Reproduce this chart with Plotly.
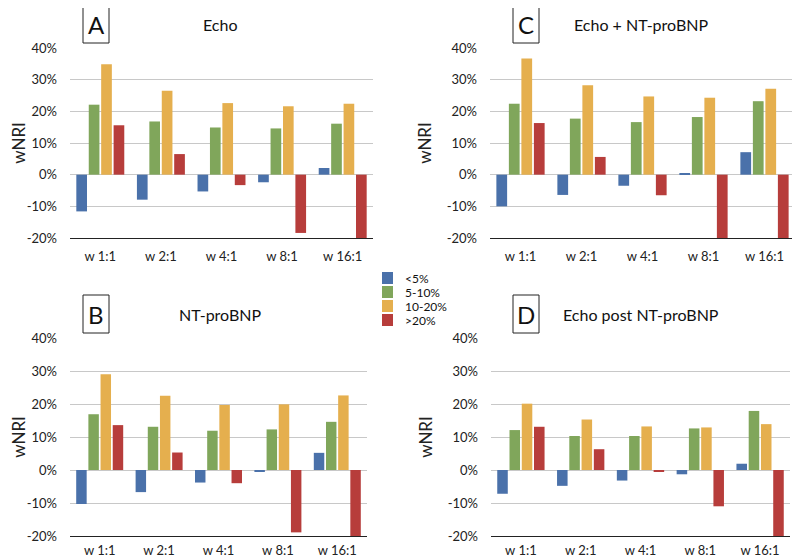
import plotly.graph_objects as go

# weights on x axis
weights = ["w 1:1", "w 2:1", "w 4:1", "w 8:1", "w 16:1"]
risk_groups = ["<5%", "5-10%", "10-20%", ">20%"]
colors = ["#4A71AA", "#80A65B", "#E5AF4E", "#B73D3B"]

# wNRI values (%) per panel, per risk group
echo_lt5 = [-11.6, -7.9, -5.3, -2.4, 2.1]
echo_5_10 = [22.1, 16.8, 14.9, 14.6, 16.1]
echo_10_20 = [34.9, 26.5, 22.6, 21.6, 22.4]
echo_gt20 = [15.6, 6.5, -3.3, -18.4, -20.0]

nt_lt5 = [-10.3, -6.7, -3.8, -0.6, 5.2]
nt_5_10 = [16.9, 13.1, 11.9, 12.3, 14.6]
nt_10_20 = [29.0, 22.5, 19.7, 19.9, 22.6]
nt_gt20 = [13.6, 5.3, -4.0, -18.9, -20.0]

both_lt5 = [-10.0, -6.4, -3.5, 0.4, 7.1]
both_5_10 = [22.4, 17.7, 16.6, 18.2, 23.2]
both_10_20 = [36.7, 28.2, 24.7, 24.3, 27.1]
both_gt20 = [16.3, 5.6, -6.5, -20.0, -20.0]

post_lt5 = [-7.2, -4.8, -3.2, -1.3, 1.9]
post_5_10 = [12.1, 10.3, 10.3, 12.6, 17.9]
post_10_20 = [20.1, 15.3, 13.2, 12.9, 13.9]
post_gt20 = [13.1, 6.3, -0.6, -11.0, -20.0]

panels = [
    ("A", "Echo", [echo_lt5, echo_5_10, echo_10_20, echo_gt20]),
    ("B", "NT-proBNP", [nt_lt5, nt_5_10, nt_10_20, nt_gt20]),
    ("C", "Echo + NT-proBNP", [both_lt5, both_5_10, both_10_20, both_gt20]),
    ("D", "Echo post NT-proBNP", [post_lt5, post_5_10, post_10_20, post_gt20]),
]

# the page puts the figure 8px in from the window corner
OFF = 8
W, H = 800 - OFF, 560 - OFF


def px(x):
    return (x - OFF) / W


def py(y):
    return 1 - (y - OFF) / H


# plot-area domains, from window pixels
xdoms = {"A": [px(70), px(373)], "B": [px(70), px(367)],
         "C": [px(490), px(795)], "D": [px(491), px(790)]}
ydoms = {"A": [py(238), py(48)], "B": [py(536), py(338)],
         "C": [py(238), py(48)], "D": [py(536), py(338)]}

FONT = "Lato, 'Open Sans', sans-serif"

fig = go.Figure()
layout = dict()
annotations = []
shapes = []

for i, (letter, title, series) in enumerate(panels):
    n = "" if i == 0 else str(i + 1)
    xa, ya = "x" + n, "y" + n
    top_row = letter in "AC"
    for name, vals, col in zip(risk_groups, series, colors):
        fig.add_trace(go.Bar(
            x=weights, y=vals, name=name, marker_color=col,
            marker_line_width=0, xaxis=xa, yaxis=ya, showlegend=False,
        ))
    layout["xaxis" + n] = dict(
        domain=xdoms[letter], anchor=ya, showgrid=False, automargin=False,
        showline=True, linecolor="#222", linewidth=1.2,
        ticks="", ticklabelstandoff=6 if top_row else 2,
        tickfont=dict(size=13, color="#222", family=FONT),
    )
    layout["yaxis" + n] = dict(
        domain=ydoms[letter], anchor=xa, range=[-20, 40], automargin=False,
        tickvals=[-20, -10, 0, 10, 20, 30, 40],
        ticktext=["-20%", "-10%", "0%", "10%", "20%", "30%", "40%"],
        showgrid=True, gridcolor="#c8c8c8", gridwidth=1,
        zeroline=False, showline=False, ticks="", ticklabelstandoff=12,
        tickfont=dict(size=13, color="#222", family=FONT),
        title=dict(text="wNRI", font=dict(size=17, color="#222", family=FONT), standoff=10),
    )
    ytop_px = 48 if top_row else 338
    bx = 83 if letter in "AB" else 513
    by = ytop_px - 24
    shapes.append(dict(type="rect", xref="paper", yref="paper",
                       x0=px(bx), x1=px(bx + 26),
                       y0=py(by + 19), y1=py(by - 19),
                       line=dict(color="#222", width=1), fillcolor="white"))
    annotations.append(dict(text=letter, xref="paper", yref="paper",
                            x=px(bx + 13), y=py(by), showarrow=False,
                            xanchor="center", yanchor="middle",
                            font=dict(size=24, color="#111", family=FONT)))
    tx = 220 if letter in "AB" else 641
    annotations.append(dict(text=title, xref="paper", yref="paper",
                            x=px(tx), y=py(by), showarrow=False,
                            xanchor="center", yanchor="middle",
                            font=dict(size=16, color="#111", family=FONT)))

# hand-drawn legend between the panels
for k, (name, col) in enumerate(zip(risk_groups, colors)):
    yc = 278 + 14 * k
    shapes.append(dict(type="rect", xref="paper", yref="paper",
                       x0=px(382), x1=px(393),
                       y0=py(yc + 6), y1=py(yc - 6),
                       line=dict(width=0), fillcolor=col))
    annotations.append(dict(text=name, xref="paper", yref="paper",
                            x=px(403), y=py(yc), showarrow=False,
                            xanchor="left", yanchor="middle",
                            font=dict(size=12, color="#111", family=FONT)))

fig.update_layout(
    **layout,
    width=W, height=H,
    margin=dict(l=0, r=0, t=0, b=0),
    paper_bgcolor="white", plot_bgcolor="white",
    barmode="group", bargap=0.18, bargroupgap=0.14,
    annotations=annotations, shapes=shapes,
    font=dict(family=FONT, color="#222"),
    showlegend=False,
)

fig.write_html("out.html")
